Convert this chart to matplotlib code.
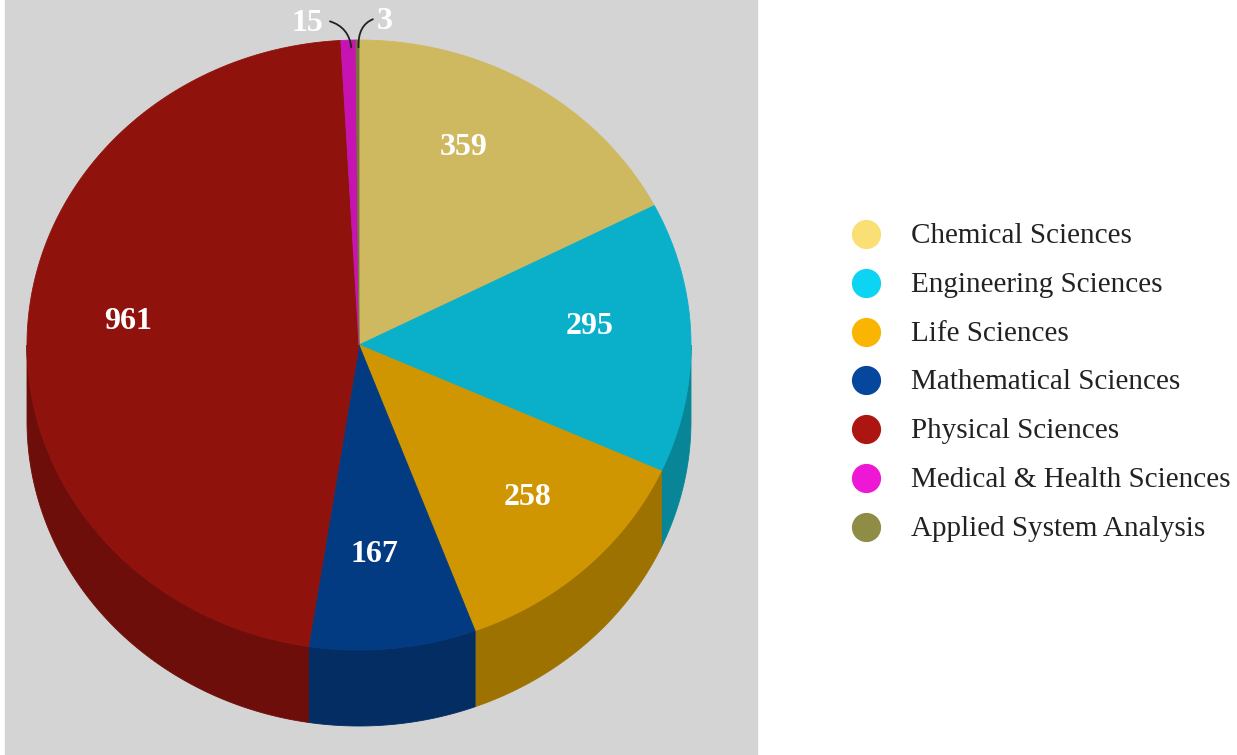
import numpy as np
import matplotlib
matplotlib.use("Agg")
import matplotlib.pyplot as plt
from matplotlib.patches import Polygon, Rectangle, PathPatch
from matplotlib.path import Path
from matplotlib.colors import to_rgb

categories = ["Chemical Sciences", "Engineering Sciences", "Life Sciences",
              "Mathematical Sciences", "Physical Sciences",
              "Medical & Health Sciences", "Applied System Analysis"]
values = [359, 295, 258, 167, 961, 15, 3]
colors = ["#f9df74", "#0cd4f2", "#f9b501", "#04479d", "#ad1610", "#ee17d5", "#8e8c45"]

TOP_SHADE = 0.83
SIDE_SHADE = 0.63

W, H = 1237, 755
fig = plt.figure(figsize=(W / 100, H / 100), dpi=100)
ax = fig.add_axes([0, 0, 1, 1])
ax.set_xlim(0, W)
ax.set_ylim(H, 0)
ax.axis("off")

ax.add_patch(Rectangle((5, 0), 752, H, color="#d4d4d4", zorder=0))

cx, cy, a, b, depth = 359, 345, 332, 305, 76

def shade(c, f):
    r, g, bb = to_rgb(c)
    return (r * f, g * f, bb * f)

def pt(theta_deg, dy=0.0):
    t = np.radians(theta_deg)
    return cx + a * np.sin(t), cy - b * np.cos(t) + dy

total = float(sum(values))
bounds = np.concatenate([[0], np.cumsum(values)]) / total * 360.0

# side walls
for i, c in enumerate(colors):
    t1, t2 = bounds[i], bounds[i + 1]
    s1, s2 = max(t1, 90), min(t2, 270)
    if s2 <= s1:
        continue
    th = np.linspace(s1, s2, 200)
    top = np.array([pt(t) for t in th])
    bot = np.array([pt(t, depth) for t in th[::-1]])
    poly = np.vstack([top, bot])
    col = shade(c, SIDE_SHADE)
    ax.add_patch(Polygon(poly, closed=True, facecolor=col, edgecolor=col, lw=0.6, zorder=1))

# top faces
for i, c in enumerate(colors):
    t1, t2 = bounds[i], bounds[i + 1]
    th = np.linspace(t1, t2, max(4, int((t2 - t1) * 3)))
    arc = np.array([pt(t) for t in th])
    poly = np.vstack([[cx, cy], arc])
    col = shade(c, TOP_SHADE)
    ax.add_patch(Polygon(poly, closed=True, facecolor=col, edgecolor=col, lw=0.6, zorder=2))

# data labels (perspective-like nudges per slice)
Rx, Ry, oy = 231, 222, -13
nudge = {0: (-16, 5), 2: (11, 3), 3: (-8, 2)}
lab_font = dict(family="Liberation Serif", fontsize=23, fontweight="bold", color="white")
for i, v in enumerate(values):
    mid = (bounds[i] + bounds[i + 1]) / 2
    t = np.radians(mid)
    if v / total > 0.02:
        nx, ny = nudge.get(i, (0, 0))
        x = cx + Rx * np.sin(t) + nx
        y = cy - Ry * np.cos(t) + oy + ny
        ax.text(x, y, str(v), ha="center", va="center", zorder=5, **lab_font)

# small-slice labels with curved connectors
small = [(i, v) for i, v in enumerate(values) if v / total <= 0.02]
offsets = {5: (-41, -17, -1), 6: (27, -19, 1)}
for i, v in small:
    mid = (bounds[i] + bounds[i + 1]) / 2
    ex, ey = pt(mid)
    ox, oyy, side = offsets[i]
    lx, ly = ex + ox, ey + oyy
    ax.text(lx, ly, str(v), ha="center", va="center", zorder=5, **lab_font)
    sx = lx + (22 if side < 0 else -11)
    sy = ly - 2
    tx, ty = ex + (3 if side < 0 else 1), ey + 8
    ctrl = (tx - 2, sy + 6) if side < 0 else (tx - 1, sy + 6)
    path = Path([(sx, sy), ctrl, (tx, ty)], [Path.MOVETO, Path.CURVE3, Path.CURVE3])
    ax.add_patch(PathPatch(path, fill=False, edgecolor="#222222", lw=1.3, zorder=6))

# legend
leg_x, leg_y0, leg_dy = 866, 234, 48.8
for i, (name, c) in enumerate(zip(categories, colors)):
    y = leg_y0 + i * leg_dy
    ax.plot([leg_x], [y], marker="o", markersize=20, color=c, mec=c, zorder=5)
    ax.text(911, y + 9, name, ha="left", va="baseline", family="Liberation Serif",
            fontsize=21, color="#222222", zorder=5)

fig.savefig("out.png", dpi=100)
